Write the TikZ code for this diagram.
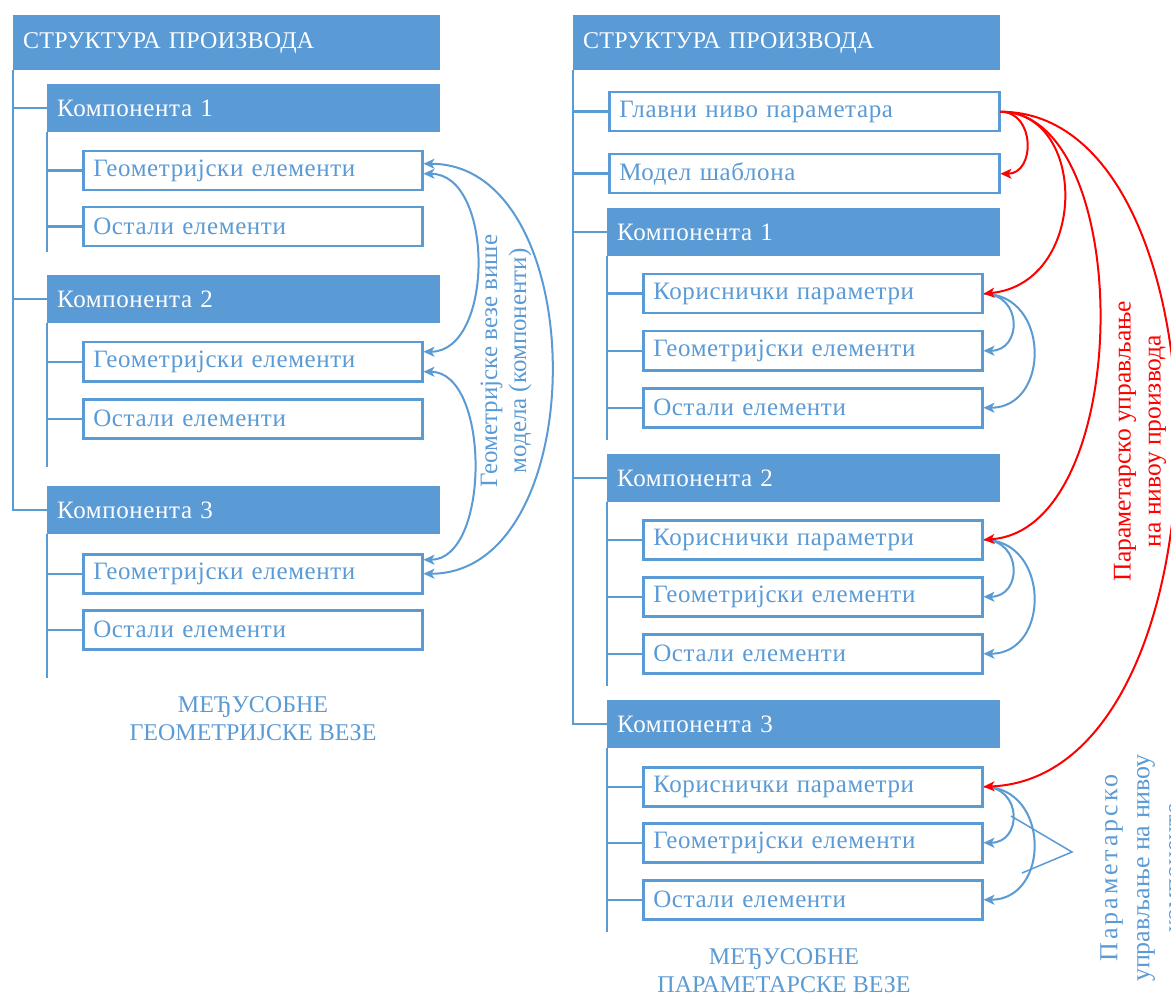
\documentclass[tikz,border=0pt]{standalone}
\usepackage{fontspec}
\setmainfont{Liberation Serif}
\newfontfamily\boxfont[LetterSpace=2.5]{Liberation Serif}
\newfontfamily\hdrfont[LetterSpace=1]{Liberation Serif}
\newfontfamily\spfont[LetterSpace=11]{Liberation Serif}
\usetikzlibrary{arrows.meta}
\definecolor{bl}{RGB}{91,155,213}
\definecolor{rd}{RGB}{255,0,0}
\newcommand\fsbox{\boxfont\fontsize{25}{29}\selectfont}
\newcommand\fshdr{\hdrfont\fontsize{24}{28}\selectfont}
\newcommand\fscap{\fontsize{24}{28}\selectfont}
\newcommand\fsrot{\fontsize{25}{29}\selectfont}
\newcommand\fsred{\fontsize{25.5}{30}\selectfont}
\newcommand\fsbig{\fontsize{26}{32}\selectfont}
\tikzset{
  base/.style={rectangle, anchor=north west, inner xsep=10pt, inner ysep=0pt, align=left, font=\fsbox},
  hdr/.style={base, fill=bl, text=white, minimum height=55pt, text width=407pt, font=\fshdr},
  comp/.style={base, fill=bl, text=white, minimum height=48pt, text width=373pt},
  sub/.style={base, draw=bl, line width=2.5pt, text=bl, minimum height=39pt, text width=319pt, minimum width=339pt},
  topb/.style={base, draw=bl, line width=2.5pt, text=bl, minimum height=39pt, text width=370pt, minimum width=390pt},
  ln/.style={draw=bl, line width=2.5pt},
  barr/.style={draw=bl, line width=2pt, -{Stealth[length=11pt,width=10pt,inset=3pt]}},
  bdarr/.style={draw=bl, line width=2pt, {Stealth[length=11pt,width=10pt,inset=3pt]}-{Stealth[length=11pt,width=10pt,inset=3pt]}},
  rarr/.style={draw=rd, line width=2pt, -{Stealth[length=11pt,width=10pt,inset=3pt]}},
  captxt/.style={align=center, text=bl, font=\fscap}
}
\begin{document}
\begin{tikzpicture}[x=1pt,y=-1pt]
\clip (0,0) rectangle (1171,995);
\fill[white] (0,0) rectangle (1171,995);
% ---------------- left diagram ----------------
\node[hdr] (h1) at (13,15) {СТРУКТУРА ПРОИЗВОДА};
\node[comp] (k1) at (47,84) {Компонента 1};
\node[sub] (g1) at (82,150) {Геометријски елементи};
\node[sub] (o1) at (82,206) {Остали елементи};
\node[comp] (k2) at (47,275) {Компонента 2};
\node[sub] (g2) at (82,341) {Геометријски елементи};
\node[sub] (o2) at (82,398) {Остали елементи};
\node[comp] (k3) at (47,486) {Компонента 3};
\node[sub] (g3) at (82,553) {Геометријски елементи};
\node[sub] (o3) at (82,609) {Остали елементи};
\coordinate (le1) at (47,252);
\coordinate (le2) at (47,467);
\coordinate (le3) at (47,678);
\draw[ln] (h1.south west) |- (k3.west);
\draw[ln] (h1.south west |- k1.west) -- (k1.west);
\draw[ln] (h1.south west |- k2.west) -- (k2.west);
\draw[ln] (k1.south west) -- (le1);
\draw[ln] (k1.south west |- g1.west) -- (g1.west);
\draw[ln] (k1.south west |- o1.west) -- (o1.west);
\draw[ln] (k2.south west) -- (le2);
\draw[ln] (k2.south west |- g2.west) -- (g2.west);
\draw[ln] (k2.south west |- o2.west) -- (o2.west);
\draw[ln] (k3.south west) -- (le3);
\draw[ln] (k3.south west |- g3.west) -- (g3.west);
\draw[ln] (k3.south west |- o3.west) -- (o3.west);
\draw[bdarr] ([yshift=7pt]g1.east) .. controls +(170,0) and +(170,0) .. ([yshift=0pt]g3.east);
\draw[bdarr] ([yshift=-3pt]g1.east) .. controls +(71,0) and +(71,0) .. ([yshift=10pt]g2.east);
\draw[bdarr] ([yshift=-10pt]g2.east) .. controls +(67,0) and +(67,0) .. ([yshift=14pt]g3.east);
\node[captxt, rotate=90, font=\fsrot] (lt) at (506,361) {Геометријске везе више\\модела (компоненти)};
\node[captxt] (lc) at (253,719) {МЕЂУСОБНЕ\\ГЕОМЕТРИЈСКЕ ВЕЗЕ};
% ---------------- right diagram ----------------
\node[hdr] (h2) at (573,15) {СТРУКТУРА ПРОИЗВОДА};
\node[topb] (gl) at (608,91) {Главни ниво параметара};
\node[topb] (md) at (608,153) {Модел шаблона};
\node[comp] (r1) at (607,208) {Компонента 1};
\node[sub] (p1) at (642,273) {Кориснички параметри};
\node[sub] (q1) at (642,330) {Геометријски елементи};
\node[sub] (s1) at (642,387) {Остали елементи};
\node[comp] (r2) at (607,454) {Компонента 2};
\node[sub] (p2) at (642,519) {Кориснички параметри};
\node[sub] (q2) at (642,576) {Геометријски елементи};
\node[sub] (s2) at (642,633) {Остали елементи};
\node[comp] (r3) at (607,700) {Компонента 3};
\node[sub] (p3) at (642,766) {Кориснички параметри};
\node[sub] (q3) at (642,822) {Геометријски елементи};
\node[sub] (s3) at (642,879) {Остали елементи};
\coordinate (re1) at (607,440);
\coordinate (re2) at (607,686);
\coordinate (re3) at (607,932);
\draw[ln] (h2.south west) |- (r3.west);
\draw[ln] (h2.south west |- gl.west) -- (gl.west);
\draw[ln] (h2.south west |- md.west) -- (md.west);
\draw[ln] (h2.south west |- r1.west) -- (r1.west);
\draw[ln] (h2.south west |- r2.west) -- (r2.west);
\foreach \r/\p/\q/\s/\e in {r1/p1/q1/s1/re1, r2/p2/q2/s2/re2, r3/p3/q3/s3/re3}{
  \draw[ln] (\r.south west) -- (\e);
  \draw[ln] (\r.south west |- \p.west) -- (\p.west);
  \draw[ln] (\r.south west |- \q.west) -- (\q.west);
  \draw[ln] (\r.south west |- \s.west) -- (\s.west);
  \draw[barr] (\p.east) .. controls +(39,0) and +(39,0) .. (\q.east);
  \draw[barr] (\p.east) .. controls +(67,0) and +(67,0) .. (\s.east);
}
\draw[rarr] (gl.east) .. controls +(35,0) and +(35,0) .. (md.east);
\draw[rarr] (gl.east) .. controls +(88,0) and +(105,-10) .. (p1.east);
\draw[rarr] (gl.east) .. controls +(135,0) and +(152,-10) .. (p2.east);
\draw[rarr] (gl.east) .. controls +(237,0) and +(254,-10) .. (p3.east);
\node[rotate=90, align=center, text=rd, font=\fsred] (rt) at (1140,441) {Параметарско управљање\\на нивоу производа};
\coordinate (ca) at (1072,852);
\coordinate (cb) at (1011,816);
\coordinate (cc) at (1022,873);
\draw[bl, line width=1.5pt] (cb) -- (ca) -- (cc);
\node[rotate=90, align=center, text=bl, font=\fsbig] (bt) at (1141,868) {{\spfont Параметарско}\\управљање на нивоу\\компоненте};
\node[captxt] (rc) at (784,971) {МЕЂУСОБНЕ\\ПАРАМЕТАРСКЕ ВЕЗЕ};
\end{tikzpicture}
\end{document}
